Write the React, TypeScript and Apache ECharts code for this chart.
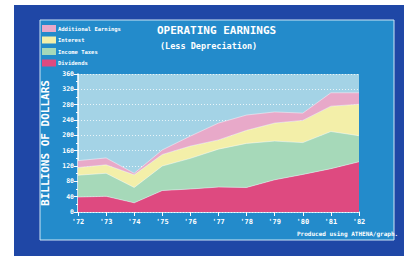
import React, { useEffect, useRef } from "react";
import * as echarts from "echarts";

const years = ["'72", "'73", "'74", "'75", "'76", "'77", "'78", "'79", "'80", "'81", "'82"];
const dividends = [39, 41, 24, 56, 60, 65, 64, 84, 98, 113, 131];
const incomeTaxes = [57, 60, 40, 64, 80, 99, 115, 101, 83, 97, 68];
const interest = [20, 22, 33, 30, 32, 24, 34, 47, 58, 66, 82];
const additional = [18, 18, 4, 12, 26, 44, 40, 29, 19, 35, 30];
const legendNames = ["Additional Earnings", "Interest", "Income Taxes", "Dividends"];

const MONO = "'DejaVu Sans Mono', monospace";

export default function App() {
  const ref = useRef<HTMLDivElement>(null);
  useEffect(() => {
    const chart = echarts.init(ref.current!, null, { renderer: "svg" });
    const mk = (name: string, data: number[], color: string) => ({
      name,
      type: "line",
      stack: "all",
      data,
      symbol: "none",
      smooth: false,
      lineStyle: { width: 0.8, color: "rgba(255,255,255,0.55)" },
      areaStyle: { color, opacity: 1 },
      itemStyle: { color },
    });
    chart.setOption({
      animation: false,
      backgroundColor: "#ffffff",
      graphic: [
        { type: "rect", z: -10, shape: { x: 14, y: 5, width: 390, height: 251 }, style: { fill: "#1f47a6" } },
        { type: "rect", z: -9, shape: { x: 40, y: 20, width: 354, height: 220 }, style: { fill: "#238bcb", stroke: "#cfe6f5", lineWidth: 1 } },
        {
          type: "text", z: 5, left: 157, top: 25,
          style: { text: "OPERATING EARNINGS", fill: "#ffffff", font: `bold 11px ${MONO}` },
        },
        {
          type: "text", z: 5, left: 160, top: 41,
          style: { text: "(Less Depreciation)", fill: "#ffffff", font: `bold 8.5px ${MONO}` },
        },
        {
          type: "text", z: 5, left: 297, top: 230,
          style: { text: "Produced using ATHENA/graph.", fill: "#ffffff", font: `bold 6px ${MONO}` },
        },
      ],
      legend: {
        orient: "vertical",
        left: 42,
        top: 25,
        padding: 0,
        itemWidth: 14,
        itemHeight: 7,
        itemGap: 4.5,
        icon: "rect",
        data: legendNames,
        textStyle: { color: "#ffffff", fontSize: 5.5, fontFamily: MONO, fontWeight: "bold", padding: [0, 0, 0, -3] },
      },
      grid: {
        left: 78,
        right: 56,
        top: 74,
        bottom: 44,
        show: true,
        backgroundColor: "#a4d3e6",
        borderWidth: 0,
      },
      xAxis: {
        type: "category",
        data: years,
        boundaryGap: false,
        axisLine: { lineStyle: { color: "#ffffff", width: 1.5 } },
        axisTick: { show: true, inside: false, length: 4, lineStyle: { color: "#ffffff" } },
        axisLabel: { color: "#ffffff", fontSize: 7, fontFamily: MONO, fontWeight: "bold", margin: 6 },
        splitLine: { show: false },
      },
      yAxis: {
        type: "value",
        min: 0,
        max: 360,
        interval: 40,
        name: "BILLIONS OF DOLLARS",
        nameLocation: "middle",
        nameRotate: 90,
        nameGap: 24,
        nameTextStyle: { color: "#ffffff", fontSize: 11, fontFamily: MONO, fontWeight: "bold" },
        axisLine: { show: true, lineStyle: { color: "#ffffff", width: 1.5 } },
        axisTick: { show: true, length: 4, lineStyle: { color: "#ffffff" } },
        minorTick: { show: true, splitNumber: 2, length: 2, lineStyle: { color: "#ffffff" } },
        axisLabel: { color: "#ffffff", fontSize: 6.5, fontFamily: MONO, fontWeight: "bold", margin: 4 },
        splitLine: { show: true, lineStyle: { color: "rgba(255,255,255,0.75)", type: [1, 2], width: 1 } },
      },
      series: [
        mk("Dividends", dividends, "#de4a80"),
        mk("Income Taxes", incomeTaxes, "#a6d9b9"),
        mk("Interest", interest, "#f3efa9"),
        mk("Additional Earnings", additional, "#e8a9c9"),
      ],
    });
    return () => chart.dispose();
  }, []);
  return <div ref={ref} style={{ position: "fixed", left: 0, top: 0, width: 415, height: 256 }} />;
}
